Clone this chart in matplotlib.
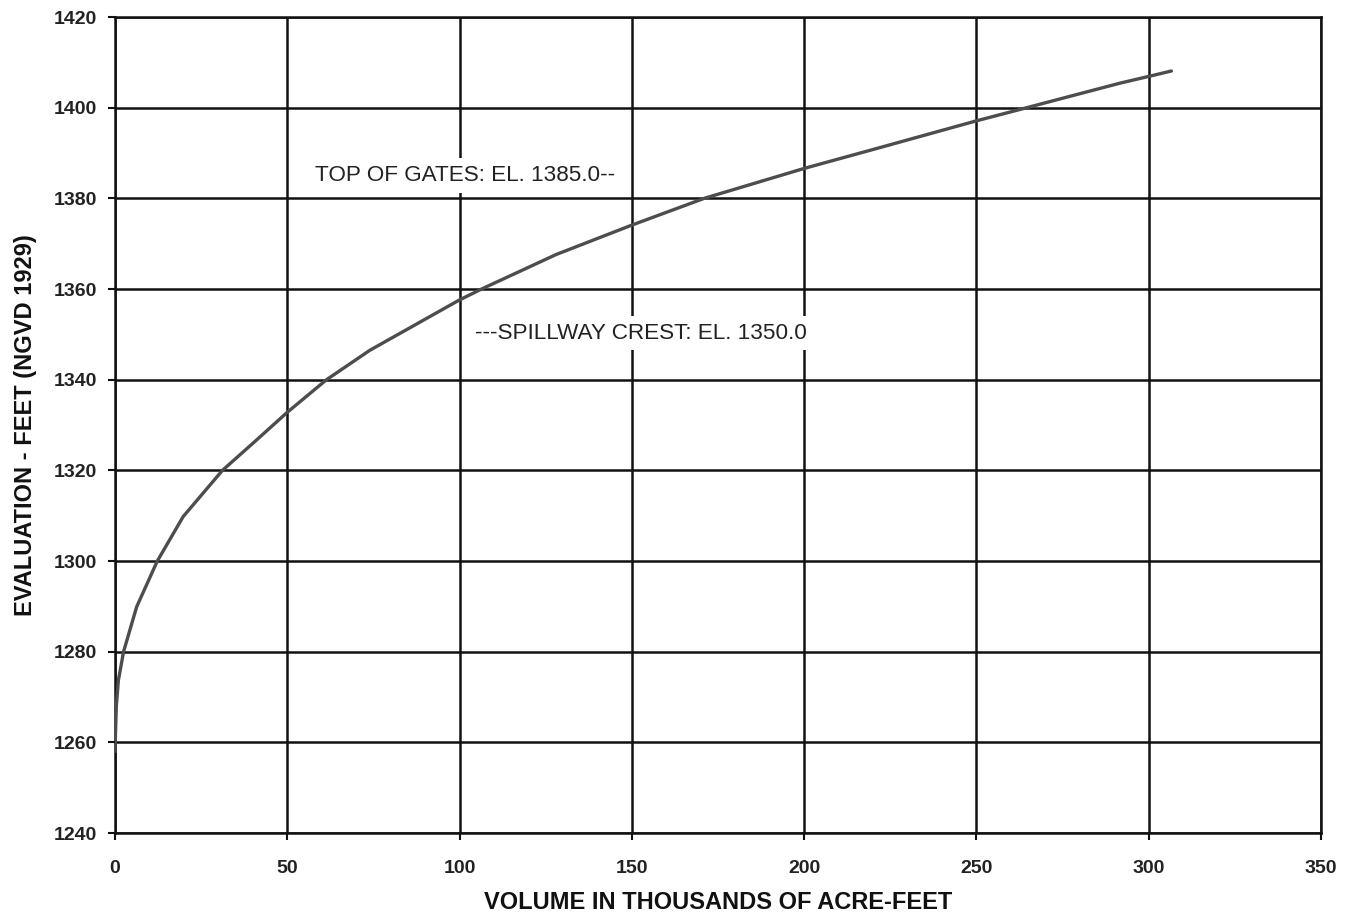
import matplotlib.pyplot as plt

# Elevation-capacity curve for the reservoir
volume = [0, 0.4, 1, 2.5, 6.3, 12.3, 19.8, 31.2, 41.1, 50, 61.4, 74,
          100, 106.4, 128, 150, 171, 200, 222, 250, 264.6, 291.6, 300, 306.6]
elevation = [1258, 1268, 1273.7, 1280, 1289.9, 1300, 1309.8, 1320, 1326.7,
             1332.8, 1340, 1346.5, 1357.6, 1360, 1367.6, 1374.1,
             1380, 1386.6, 1391.2, 1397.1, 1400, 1405.4, 1406.9, 1408.1]

x_ticks = [0, 50, 100, 150, 200, 250, 300, 350]
y_ticks = [1240, 1260, 1280, 1300, 1320, 1340, 1360, 1380, 1400, 1420]

gates_label = "TOP OF GATES: EL. 1385.0--"
gates_pos = (58, 1385.0)
spillway_label = "---SPILLWAY CREST: EL. 1350.0"
spillway_pos = (104.5, 1350.3)

plt.rcParams['font.family'] = ['Liberation Sans', 'DejaVu Sans']

fig = plt.figure(figsize=(13.46, 9.16), dpi=100)
ax = fig.add_axes([0.0854, 0.0906, 0.896, 0.8908])

ax.plot(volume, elevation, color='#4d4d4d', linewidth=2.4, zorder=3,
        solid_capstyle='round', solid_joinstyle='round')

ax.set_xlim(0, 350)
ax.set_ylim(1240, 1420)
ax.set_xticks(x_ticks)
ax.set_yticks(y_ticks)
ax.grid(True, color='#111111', linewidth=1.8)
ax.set_axisbelow(True)
for sp in ax.spines.values():
    sp.set_color('#111111')
    sp.set_linewidth(1.8)
ax.tick_params(direction='out', length=5, width=1.5, color='#111111',
               labelsize=14, pad=8)
ax.tick_params(axis='x', pad=14.5)
for lbl in ax.get_xticklabels() + ax.get_yticklabels():
    lbl.set_fontweight('bold')
    lbl.set_color('#222222')

ax.set_xlabel('VOLUME IN THOUSANDS OF ACRE-FEET', fontsize=17,
              fontweight='bold', color='#111111', labelpad=10)
ax.set_ylabel('EVALUATION - FEET (NGVD 1929)', fontsize=17,
              fontweight='bold', color='#111111', labelpad=12)

# white boxes behind the notes break the grid lines
box = dict(boxstyle='square,pad=0.3', facecolor='white', edgecolor='none')
ax.text(*gates_pos, gates_label, fontsize=16.2, color='#222222',
        ha='left', va='center', bbox=box, zorder=2)
ax.text(*spillway_pos, spillway_label, fontsize=16.2, color='#222222',
        ha='left', va='center', bbox=box, zorder=2)

fig.savefig('out.png', dpi=100)
